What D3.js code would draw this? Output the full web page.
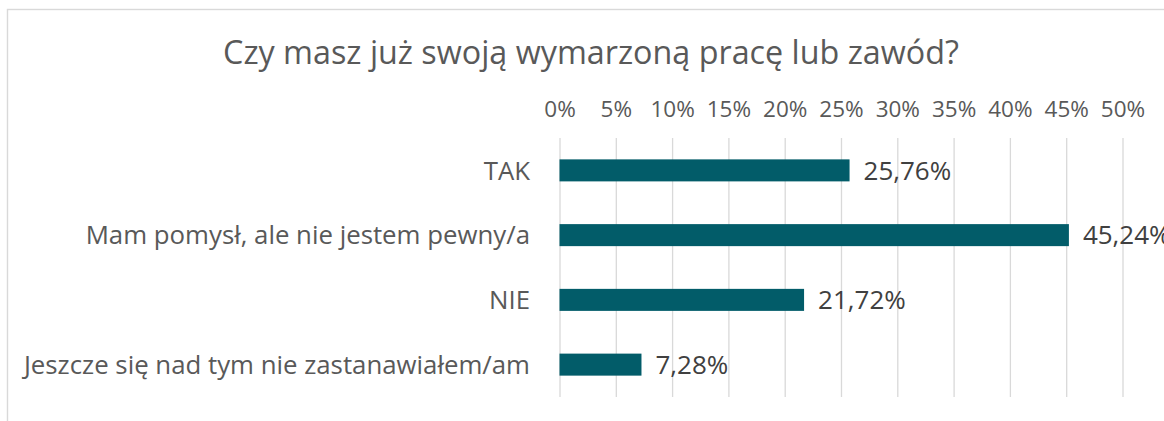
<!DOCTYPE html>
<html>
<head>
<meta charset="utf-8">
<script src="https://cdn.jsdelivr.net/npm/d3@7"></script>
<style>
  html, body { margin: 0; padding: 0; background: #fff; }
  svg { display: block; }
  text { font-family: "Open Sans", "Noto Sans", sans-serif; }
</style>
</head>
<body>
<svg id="chart" width="1164" height="421"></svg>
<script>
const title = "Czy masz już swoją wymarzoną pracę lub zawód?";
const categories = ["TAK", "Mam pomysł, ale nie jestem pewny/a", "NIE", "Jeszcze się nad tym nie zastanawiałem/am"];
const values = [0.2576, 0.4524, 0.2172, 0.0728];
const tickValues = [0, 0.05, 0.10, 0.15, 0.20, 0.25, 0.30, 0.35, 0.40, 0.45, 0.50];

const svg = d3.select("#chart");
const W = 1164, H = 421;
const plot = { left: 559.5, right: 1122.5, top: 138, bottom: 397 };

svg.append("rect").attr("width", W).attr("height", H).attr("fill", "#fff");
// chart frame
svg.append("rect")
  .attr("x", 7.5).attr("y", 9.5)
  .attr("width", W + 50).attr("height", H + 50)
  .attr("fill", "none").attr("stroke", "#d9d9d9").attr("stroke-width", 1.4);

const x = d3.scaleLinear().domain([0, 0.5]).range([plot.left, plot.right]);
const y = d3.scaleBand().domain(categories).range([plot.top, plot.bottom])
  .paddingInner(0.66).paddingOuter(0.33);

// gridlines
const grid = svg.append("g")
  .attr("transform", `translate(0,${plot.top})`)
  .call(d3.axisTop(x).tickValues(tickValues).tickSize(-(plot.bottom - plot.top)).tickFormat(""));
grid.select(".domain").remove();
grid.selectAll(".tick line").attr("stroke", "#d9d9d9").attr("stroke-width", 1.3);

// top axis labels
const axis = svg.append("g")
  .attr("transform", `translate(0,117)`)
  .call(d3.axisTop(x).tickValues(tickValues).tickSize(0).tickPadding(0).tickFormat(d3.format(".0%")));
axis.select(".domain").remove();
axis.selectAll(".tick text")
  .attr("font-family", "Open Sans").attr("font-size", 22.5)
  .attr("fill", "#595959").attr("dy", 0);

// bars
svg.append("g").selectAll("rect")
  .data(categories)
  .join("rect")
  .attr("x", x(0))
  .attr("y", d => y(d))
  .attr("width", (d, i) => x(values[i]) - x(0))
  .attr("height", y.bandwidth())
  .attr("fill", "#025c69");

// category labels
svg.append("g").selectAll("text")
  .data(categories)
  .join("text")
  .attr("x", 530)
  .attr("y", d => y(d) + y.bandwidth() / 2)
  .attr("dy", "0.36em")
  .attr("text-anchor", "end")
  .attr("font-size", 25.8)
  .attr("fill", "#595959")
  .text(d => d);

// value labels
const pl = d3.formatLocale({ decimal: ",", thousands: " ", grouping: [3], currency: ["", " zł"] });
const fmt = pl.format(".2%");
svg.append("g").selectAll("text")
  .data(categories)
  .join("text")
  .attr("x", (d, i) => x(values[i]) + 14)
  .attr("y", d => y(d) + y.bandwidth() / 2)
  .attr("dy", "0.36em")
  .attr("font-size", 26)
  .attr("fill", "#404040")
  .text((d, i) => fmt(values[i]));

// title
svg.append("text")
  .attr("x", 591).attr("y", 64)
  .attr("text-anchor", "middle")
  .attr("font-size", 32.3)
  .attr("fill", "#595959")
  .text(title);
</script>
</body>
</html>
